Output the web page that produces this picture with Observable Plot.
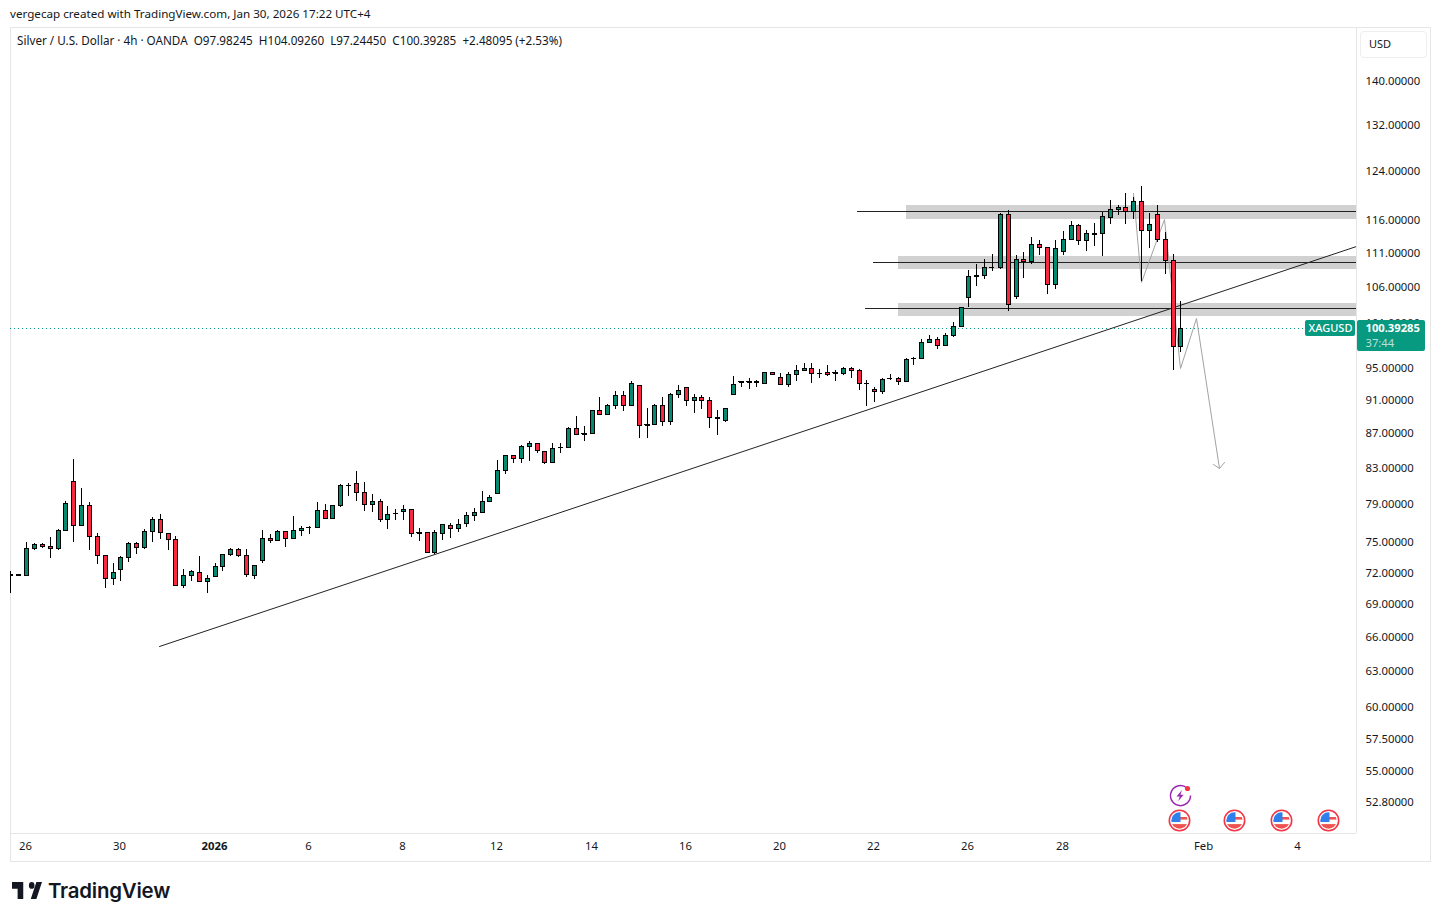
<!DOCTYPE html>
<html><head><meta charset="utf-8">
<script src="https://cdn.jsdelivr.net/npm/d3@7"></script>
<script src="https://cdn.jsdelivr.net/npm/@observablehq/plot@0.6"></script>
<style>
html,body{margin:0;padding:0;background:#fff;color:#131722;font-family:"Noto Sans",sans-serif;}
#page{position:relative;width:1440px;height:921px;overflow:hidden;}
#credit{position:absolute;left:10px;top:6px;font-size:11.65px;line-height:15px;white-space:pre;}
#chart{position:absolute;left:0;top:27px;}
#box{position:absolute;left:10px;top:27px;width:1419px;height:833px;border:1px solid #e6e6e6;pointer-events:none;}
#legend{position:absolute;left:17px;top:33px;font-size:11.7px;line-height:15px;white-space:pre;}
#usd{position:absolute;left:1360px;top:31px;width:65px;height:25px;border:1px solid #eeeeee;border-radius:4px;font-size:11px;line-height:24px;box-sizing:content-box;}
#usd span{margin-left:8px;}
#logo{position:absolute;left:12px;top:882px;width:30px;height:17px;}
#brand{position:absolute;left:48px;top:877px;font-family:Inter,sans-serif;font-size:20.4px;line-height:28px;font-weight:600;letter-spacing:-.2px;color:#131722;}
</style></head>
<body><div id="page">
<div id="credit">vergecap created with TradingView.com, Jan 30, 2026 17:22 UTC+4</div>
<div id="box"></div>
<div id="chart"></div>
<div id="legend">Silver / U.S. Dollar · 4h · OANDA  O97.98245  H104.09260  L97.24450  C100.39285  +2.48095 (+2.53%)</div>
<div id="usd"><span>USD</span></div>
<svg id="logo" viewBox="2 6 32 15" preserveAspectRatio="none"><path fill="#131722" d="M14 6H2v6h6v9h6V6zm14 15h-6l6-15h6l-6 15zm-5-9a3 3 0 1 0 0-6 3 3 0 0 0 0 6z"/></svg>
<div id="brand">TradingView</div>
</div>
<script>
const firstBar = -2;
const opens = [
71.9,71.83,71.83,74.51,74.95,74.75,74.51,76.39,81.63,76.90,
79.02,75.77,73.84,71.57,72.46,73.64,75.05,74.65,76.28,77.53,
76.08,75.46,70.90,71.87,72.16,71.28,71.77,72.75,73.94,74.45,
73.84,71.87,73.34,75.56,75.35,76.28,75.56,76.39,76.70,76.66,
78.49,77.64,79.02,81.19,81.41,80.43,79.13,79.45,77.53,78.14,
78.38,78.60,76.10,76.18,74.14,76.08,76.90,76.59,77.11,77.96,
78.28,79.45,80.32,82.86,84.57,84.22,85.60,85.95,85.03,83.76,
85.40,85.49,87.72,87.00,87.12,89.89,89.40,90.50,91.73,90.50,
92.98,88.08,88.10,90.50,88.55,91.86,92.73,91.11,91.48,91.11,
88.89,88.67,91.86,93.36,93.36,93.36,93.23,94.63,93.99,93.11,
94.38,94.89,95.15,94.50,94.63,94.46,94.50,95.15,94.89,93.15,
92.48,92.23,93.84,93.87,93.48,96.36,96.40,98.57,98.97,98.17,
99.51,100.73,104.63,107.65,107.80,109.00,109.05,117.09,104.77,110.16,
109.86,112.42,111.97,106.49,111.36,113.18,115.36,113.02,114.09,114.13,
116.61,117.89,118.21,117.57,119.17,114.58,117.09,113.18,110.01,97.98245];
const highs = [
72.29,71.97,75.15,75.08,75.08,75.66,76.49,79.45,84.03,80.86,
79.34,76.08,73.84,73.04,73.74,75.15,75.15,76.49,77.74,78.06,
76.08,75.77,72.46,72.36,73.74,71.87,73.04,73.94,74.55,74.55,
74.45,72.85,76.39,75.97,76.39,76.28,77.85,76.80,76.80,79.34,
79.13,79.02,81.30,81.41,82.75,81.52,80.21,79.67,78.90,78.60,
79.02,78.60,76.59,76.18,76.39,77.01,77.11,77.53,78.28,78.70,
80.54,80.10,83.99,84.57,84.57,85.72,86.18,85.95,85.03,85.95,
85.95,87.84,89.16,87.96,89.89,91.48,90.62,92.23,92.23,93.48,
92.98,90.13,90.62,91.48,91.98,92.98,92.73,91.86,91.73,91.48,
89.89,90.13,94.12,93.48,93.87,93.61,94.63,94.63,94.50,94.63,
95.54,95.79,95.79,95.02,95.54,94.89,95.28,95.28,95.02,93.61,
92.73,93.87,94.38,93.99,96.45,96.58,98.97,99.38,99.24,99.65,
101.27,103.34,108.54,109.42,110.16,110.91,117.25,117.73,110.76,111.21,
113.49,113.02,111.97,113.02,114.42,115.98,115.51,114.58,115.67,117.41,
119.33,118.53,120.48,119.82,121.63,117.25,118.53,114.27,110.91,104.0926];
const lows = [
70.16,71.73,71.83,74.31,74.51,73.57,74.31,76.39,75.11,76.90,
74.31,72.91,70.57,70.86,71.24,73.10,73.90,74.41,75.11,75.41,
74.31,70.77,70.57,71.31,71.15,70.10,71.77,72.22,73.74,73.64,
71.63,71.44,73.01,75.01,75.35,74.61,75.56,75.77,75.94,76.55,
77.64,77.53,78.75,79.92,79.48,78.36,78.25,77.17,76.45,77.38,
77.46,75.62,75.21,74.14,73.94,75.31,75.52,76.14,76.66,77.32,
78.28,79.45,80.32,82.37,83.65,83.65,83.88,84.80,83.54,83.76,
84.80,85.37,87.00,86.10,87.12,89.28,89.28,90.01,89.77,90.50,
86.48,86.48,88.08,87.96,88.08,91.36,90.38,89.52,90.01,87.72,
86.89,88.44,91.86,92.73,92.48,92.73,93.23,94.38,92.98,92.73,
93.48,94.76,93.23,93.87,94.12,93.43,94.25,93.87,92.36,90.38,
90.86,91.86,93.61,92.98,93.36,95.49,96.40,98.43,97.64,98.17,
99.11,100.73,103.34,106.29,107.21,108.39,108.68,102.66,104.48,107.36,
109.42,110.76,105.06,105.78,110.76,113.02,112.27,111.36,112.12,110.61,
115.51,116.93,115.51,116.29,106.92,111.82,112.72,107.95,94.89,97.2445];
const closes = [
72.0,71.97,74.55,74.95,74.71,74.51,76.39,79.24,76.90,79.02,
75.77,73.84,71.57,72.16,73.64,75.05,74.65,76.28,77.53,76.18,
75.46,70.90,71.87,72.26,71.28,71.57,72.75,73.94,74.45,73.84,
71.97,72.85,75.56,75.35,76.28,75.56,76.39,76.59,76.73,78.49,
77.64,79.02,81.19,81.20,80.43,79.13,79.45,77.53,78.06,78.17,
78.60,76.08,76.18,74.14,76.18,77.01,76.59,77.01,77.96,78.28,
79.45,79.88,82.86,84.57,84.22,85.60,85.95,85.14,83.76,85.37,
85.44,87.72,87.00,87.03,89.89,89.40,90.50,91.73,90.50,93.23,
88.08,88.10,90.50,88.55,91.86,92.36,91.11,91.48,91.11,89.05,
88.97,90.13,93.11,93.39,93.39,93.39,94.63,94.38,93.11,94.38,
94.89,95.15,94.50,94.52,94.38,94.53,95.15,94.89,93.23,93.20,
92.23,93.74,93.87,93.48,96.32,96.40,98.57,98.97,98.17,99.51,
100.73,103.34,107.65,107.80,108.98,109.05,117.09,103.64,110.16,109.86,
112.42,111.97,106.49,111.82,113.18,115.36,113.02,114.11,114.13,116.77,
117.89,118.21,117.57,119.17,114.58,115.51,113.18,110.01,97.91,100.39285];

const priceTicks = [140,132,124,116,111,106,101,95,91,87,83,79,75,72,69,66,63,60,57.5,55,52.8];
const dateTickBars = [0,12,24,36,48,60,72,84,96,108,120,132,150,162];
const dateTickLabels = ["26","30","2026","6","8","12","14","16","20","22","26","28","Feb","4"];
const boldDateBars = [24];

const zones = [
  {from:112.05, hi:118.58, lo:116.34},
  {from:111.03, hi:110.65, lo:108.73},
  {from:111.03, hi:103.82, lo:102.01}
];
const levels = [
  {from:105.8, price:117.57},
  {from:107.85, price:109.71},
  {from:106.83, price:103.08}
];
const trendBars = [16.91,169.36];
const trendPrices = [65.25,112.16];
const pathBars = [140.92,141.97,144.95,146.94,148.95,151.95];
const pathPrices = [120.48,106.87,116.34,95.10,101.77,83.09];
const headBars = [151.18,151.95,152.55];
const headPrices = [83.54,83.09,83.72];
const flagBars = [146.81,153.82,159.81,165.79];
const flagPrice = 51.60;
const boltBar = 146.94, boltPrice = 53.35;
const lastPrice = 100.39285;
const barDomain = [-2.063,169.36];
const priceDomain = [50.67,150.9];

const bars = opens.map((o,k)=>({i:firstBar+k,o,h:highs[k],l:lows[k],c:closes[k]}));
const dojis = bars.filter(d=>Math.abs(d.o-d.c)<0.12);
const up = "#07896f", down = "#f7283f", tag = "#089981", ink = "#131722";
const tickLabel = new Map(dateTickBars.map((b,k)=>[b,dateTickLabels[k]]));
const normalBars = dateTickBars.filter(b=>!boldDateBars.includes(b));

const svgUri = s => "data:image/svg+xml;charset=utf-8,"+encodeURIComponent(s);
const flagIcon = svgUri(`<svg xmlns="http://www.w3.org/2000/svg" width="24" height="24" viewBox="0 0 24 24"><defs><clipPath id="c"><circle cx="12" cy="12" r="8.2"/></clipPath></defs><circle cx="12" cy="12" r="10.2" fill="#fff" stroke="#f23645" stroke-width="1.6"/><g clip-path="url(#c)"><rect x="3" y="3" width="18" height="18" fill="#fff"/><rect x="12" y="8.5" width="9" height="2.6" fill="#ef5350"/><rect x="3" y="15.6" width="18" height="6" fill="#ef5350"/><rect x="3" y="3" width="10" height="10.5" fill="#2f80ed"/></g></svg>`);
const boltIcon = svgUri(`<svg xmlns="http://www.w3.org/2000/svg" width="28" height="28" viewBox="0 0 28 28"><path d="M20.5 6.5A10 10 0 1 0 24 14" fill="none" stroke="#9c27b0" stroke-width="1.5"/><path d="M15.5 8.5 10 15h3.2l-1.5 4.7 5.4-6.4h-3.2z" fill="#9c27b0"/><circle cx="21" cy="7" r="2.6" fill="#f23645"/></svg>`);

const chart = Plot.plot({
  width:1440, height:834,
  marginLeft:10, marginRight:84, marginTop:0, marginBottom:28,
  style:{fontFamily:'"Noto Sans",sans-serif',fontSize:"11px",color:ink,background:"transparent",overflow:"visible"},
  x:{type:"linear",domain:barDomain,round:true},
  y:{type:"log",domain:priceDomain,round:true},
  marks:[
    Plot.rect(zones,{x1:"from",x2:()=>barDomain[1],y1:"lo",y2:"hi",fill:"#d1d1d1"}),
    Plot.ruleY(levels,{y:"price",x1:"from",x2:()=>barDomain[1],stroke:"#222",strokeWidth:1}),
    Plot.ruleY([lastPrice],{x1:()=>barDomain[0],x2:()=>162.86,stroke:tag,strokeDasharray:"1,3"}),
    Plot.line(trendBars.map((b,k)=>({b,p:trendPrices[k]})),{x:"b",y:"p",stroke:"#222",strokeWidth:1}),
    Plot.line(pathBars.map((b,k)=>({b,p:pathPrices[k]})),{x:"b",y:"p",stroke:"#a3a3a3",strokeWidth:1}),
    Plot.line(headBars.map((b,k)=>({b,p:headPrices[k]})),{x:"b",y:"p",stroke:"#a3a3a3",strokeWidth:1}),
    Plot.ruleX(bars,{x:"i",y1:"l",y2:"h",stroke:"#000",strokeWidth:1,clip:true}),
    Plot.ruleY(dojis,{y:"c",x1:d=>d.i-0.32,x2:d=>d.i+0.32,stroke:"#000",strokeWidth:1,clip:true}),
    Plot.rect(bars,{x1:"i",x2:"i",y1:"o",y2:"c",insetLeft:-2,insetRight:-2,dx:0.5,dy:0.5,
      fill:d=>d.c>=d.o?up:down,stroke:"#000",strokeWidth:1,clip:true}),
    Plot.ruleX([barDomain[1]],{stroke:"#e6e6e6"}),
    Plot.ruleY([priceDomain[0]],{x1:()=>barDomain[0],x2:()=>barDomain[1],stroke:"#e6e6e6"}),
    Plot.axisY({anchor:"right",ticks:priceTicks,tickSize:0,tickPadding:9,label:null,fontSize:11.3,dy:-1,
      tickFormat:d3.format(".5f")}),
    Plot.axisX({anchor:"bottom",ticks:normalBars,tickSize:0,tickPadding:8,label:null,fontSize:11.3,dx:-1,
      tickFormat:b=>tickLabel.get(b)}),
    Plot.axisX({anchor:"bottom",ticks:boldDateBars,tickSize:0,tickPadding:8,label:null,fontSize:11.3,fontWeight:"bold",dx:-1,
      tickFormat:b=>tickLabel.get(b)}),
    Plot.rect([0],{x1:()=>162.86,x2:()=>169.23,y1:()=>99.28,y2:()=>101.45,fill:tag,rx:2}),
    Plot.rect([0],{x1:()=>169.49,x2:()=>178.15,y1:()=>97.28,y2:()=>101.45,fill:tag,rx:2}),
    Plot.text(["XAGUSD"],{x:()=>166.05,y:()=>lastPrice,text:d=>d,fill:"#fff",fontSize:11,fontWeight:500}),
    Plot.text(["100.39285"],{x:()=>170.45,y:()=>lastPrice,text:d=>d,fill:"#fff",fontSize:11.2,fontWeight:"bold",textAnchor:"start"}),
    Plot.text(["37:44"],{x:()=>170.45,y:()=>98.34,text:d=>d,fill:"#fff",fillOpacity:.72,fontSize:11.2,textAnchor:"start"}),
    Plot.image(flagBars,{x:d=>d,y:()=>flagPrice,src:()=>flagIcon,width:24,height:24}),
    Plot.image([boltBar],{x:d=>d,y:()=>boltPrice,src:()=>boltIcon,width:28,height:28})
  ]
});
document.getElementById("chart").append(chart);
</script>
</body></html>
